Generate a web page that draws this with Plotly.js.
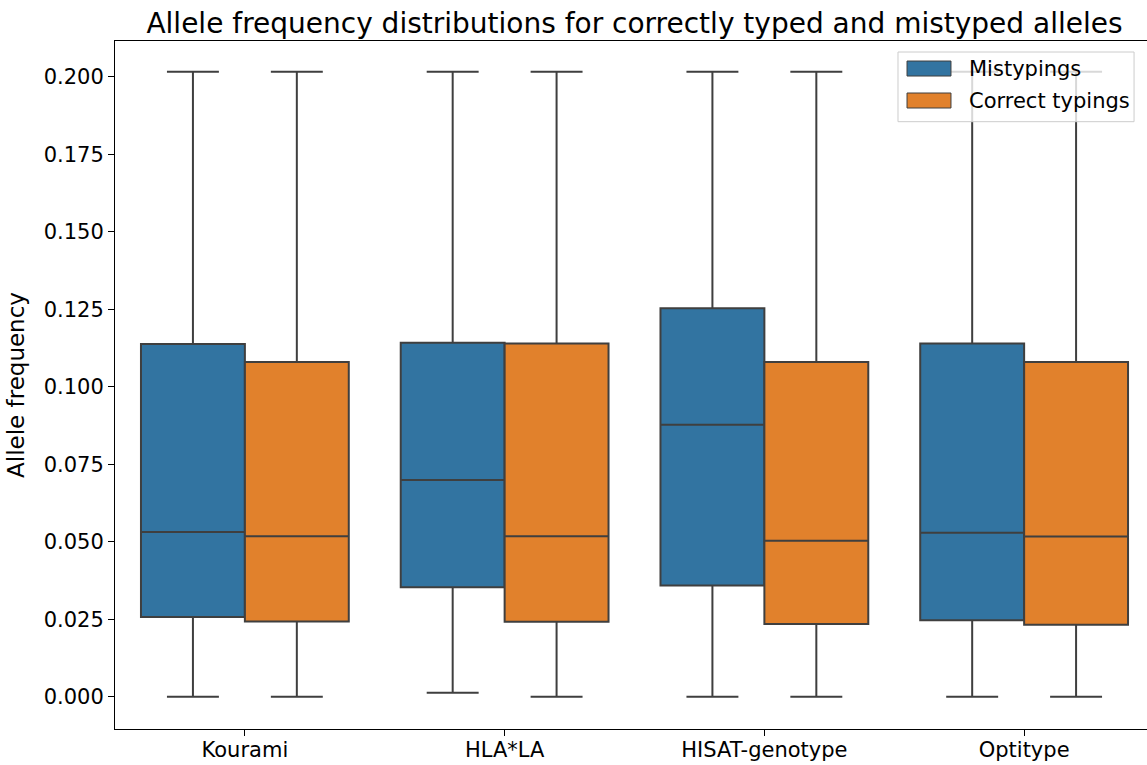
<!DOCTYPE html>
<html>
<head>
<meta charset="utf-8">
<script src="https://cdn.plot.ly/plotly-3.0.1.min.js"></script>
<style>
  html, body { margin: 0; padding: 0; overflow: hidden; background: #fff; }
  #chart { width: 1154px; height: 765px; }
</style>
</head>
<body>
<div id="chart"></div>
<script>
// Typing tools on the x axis
const tools = ["Kourami", "HLA*LA", "HISAT-genotype", "Optitype"];

// Box summary statistics per tool: allele frequency of mistyped alleles
const misLower  = [0.0000, 0.0013, 0.0000, 0.0000];
const misQ1     = [0.0257, 0.0353, 0.0359, 0.0247];
const misMedian = [0.0531, 0.0699, 0.0877, 0.0529];
const misQ3     = [0.1138, 0.1142, 0.1253, 0.1139];
const misUpper  = [0.2016, 0.2016, 0.2016, 0.2016];

// ...and of correctly typed alleles
const corLower  = [0.0000, 0.0000, 0.0000, 0.0000];
const corQ1     = [0.0243, 0.0242, 0.0235, 0.0232];
const corMedian = [0.0518, 0.0518, 0.0503, 0.0517];
const corQ3     = [0.1080, 0.1139, 0.1080, 0.1080];
const corUpper  = [0.2016, 0.2016, 0.2016, 0.2016];

const seriesNames = ["Mistypings", "Correct typings"];
const seriesColors = ["#3274a1", "#e1812c"];
const yTicks = [0, 0.025, 0.05, 0.075, 0.1, 0.125, 0.15, 0.175, 0.2];

const edge = "#3f3f3f";
const font = "DejaVu Sans, sans-serif";

function boxTrace(i, lo, q1, med, q3, hi) {
  return {
    type: "box",
    name: seriesNames[i],
    x: tools,
    lowerfence: lo,
    q1: q1,
    median: med,
    q3: q3,
    upperfence: hi,
    fillcolor: seriesColors[i],
    line: { color: edge, width: 2 },
    whiskerwidth: 0.5,
    boxpoints: false,
    showlegend: false,
    hoverinfo: "skip"
  };
}

const data = [
  boxTrace(0, misLower, misQ1, misMedian, misQ3, misUpper),
  boxTrace(1, corLower, corQ1, corMedian, corQ3, corUpper)
];

// Legend panel in the upper right corner, drawn in axis-paper units
const legendBox = { x0: 0.7536, x1: 0.9808, y0: 0.8827, y1: 0.9840 };
const swatchX = [0.7623, 0.8046];
const rowY = [[0.9491, 0.9709], [0.9026, 0.9244]];
const labelX = 0.8200;

const shapes = [{
  type: "rect", xref: "paper", yref: "paper", layer: "above",
  x0: legendBox.x0, x1: legendBox.x1, y0: legendBox.y0, y1: legendBox.y1,
  fillcolor: "rgba(255,255,255,0.8)",
  line: { color: "#cccccc", width: 1 }
}];
const annotations = [];
seriesNames.forEach((name, i) => {
  shapes.push({
    type: "rect", xref: "paper", yref: "paper", layer: "above",
    x0: swatchX[0], x1: swatchX[1], y0: rowY[i][0], y1: rowY[i][1],
    fillcolor: seriesColors[i],
    line: { color: edge, width: 1 }
  });
  annotations.push({
    xref: "paper", yref: "paper",
    x: labelX, y: (rowY[i][0] + rowY[i][1]) / 2,
    xanchor: "left", yanchor: "middle",
    text: name, showarrow: false,
    font: { family: font, size: 21, color: "#000000" }
  });
});

const layout = {
  width: 1154,
  height: 765,
  margin: { l: 115, r: 0, t: 41, b: 36, pad: 0 },
  paper_bgcolor: "#ffffff",
  plot_bgcolor: "#ffffff",
  font: { family: font, color: "#000000", size: 21 },
  boxmode: "group",
  boxgap: 0.2,
  boxgroupgap: 0,
  showlegend: false,
  shapes: shapes,
  annotations: annotations,
  title: {
    text: "Allele frequency distributions for correctly typed and mistyped alleles",
    font: { family: font, size: 28, color: "#000000" },
    x: 0.5, xref: "paper", xanchor: "center",
    y: 1, yref: "paper", yanchor: "bottom", pad: { b: 8 }
  },
  xaxis: {
    type: "category",
    range: [-0.5, 3.5],
    showline: true, linecolor: "#000000", linewidth: 1, mirror: true,
    ticks: "outside", ticklen: 6, tickwidth: 1, tickcolor: "#000000",
    ticklabelstandoff: -4,
    showgrid: false, zeroline: false,
    tickfont: { family: font, size: 21, color: "#000000" }
  },
  yaxis: {
    range: [-0.0104, 0.2115],
    tickvals: yTicks,
    tickformat: ".3f",
    showline: true, linecolor: "#000000", linewidth: 1, mirror: true,
    ticks: "outside", ticklen: 6, tickwidth: 1, tickcolor: "#000000",
    showgrid: false, zeroline: false,
    tickfont: { family: font, size: 21, color: "#000000" },
    title: { text: "Allele frequency", font: { family: font, size: 23, color: "#000000" }, standoff: 12 }
  }
};

Plotly.newPlot("chart", data, layout, { displayModeBar: false, staticPlot: true });
</script>
</body>
</html>
